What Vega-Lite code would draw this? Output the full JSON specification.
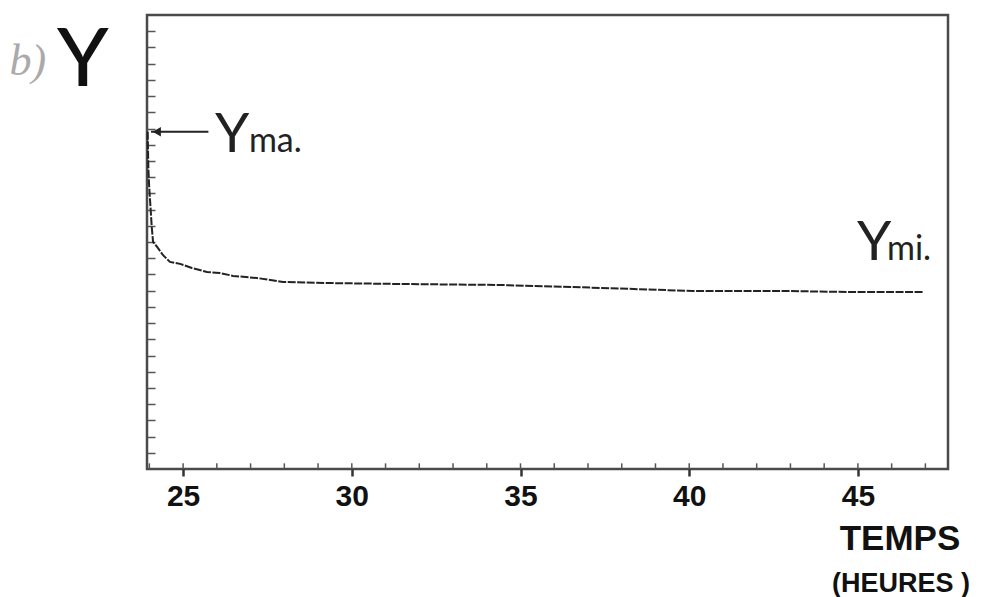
{
  "$schema": "https://vega.github.io/schema/vega-lite/v6.json",
  "width": 801,
  "height": 454,
  "autosize": {"type": "none"},
  "padding": {"left": 147, "top": 15, "right": 37, "bottom": 128},
  "background": "white",
  "config": {
    "view": {"stroke": "#4a4a4a", "strokeWidth": 2.5},
    "font": "Lato"
  },
  "datasets": {
    "curve": [
      {"hour": 23.95, "y": 20.8},
      {"hour": 23.96, "y": 19.7},
      {"hour": 23.97, "y": 18.6},
      {"hour": 23.99, "y": 17.6},
      {"hour": 24.02, "y": 16.6},
      {"hour": 24.07, "y": 14.95},
      {"hour": 24.11, "y": 14.0},
      {"hour": 24.23, "y": 13.7},
      {"hour": 24.4, "y": 13.2},
      {"hour": 24.61, "y": 12.77},
      {"hour": 24.91, "y": 12.65},
      {"hour": 25.26, "y": 12.4},
      {"hour": 25.71, "y": 12.15},
      {"hour": 26.09, "y": 12.09},
      {"hour": 26.48, "y": 11.91},
      {"hour": 27.19, "y": 11.78},
      {"hour": 27.96, "y": 11.54},
      {"hour": 29.26, "y": 11.47},
      {"hour": 31.43, "y": 11.41},
      {"hour": 34.39, "y": 11.35},
      {"hour": 37.35, "y": 11.17},
      {"hour": 40.11, "y": 10.98},
      {"hour": 42.69, "y": 10.98},
      {"hour": 44.76, "y": 10.92},
      {"hour": 46.92, "y": 10.92}
    ],
    "hours": [
      {"hour": 24}, {"hour": 25}, {"hour": 26}, {"hour": 27}, {"hour": 28},
      {"hour": 29}, {"hour": 30}, {"hour": 31}, {"hour": 32}, {"hour": 33},
      {"hour": 34}, {"hour": 35}, {"hour": 36}, {"hour": 37}, {"hour": 38},
      {"hour": 39}, {"hour": 40}, {"hour": 41}, {"hour": 42}, {"hour": 43},
      {"hour": 44}, {"hour": 45}, {"hour": 46}, {"hour": 47}
    ]
  },
  "encoding": {
    "x": {
      "type": "quantitative",
      "scale": {"domain": [23.93, 47.67], "nice": false, "zero": false},
      "axis": {
        "values": [25, 30, 35, 40, 45],
        "domain": false,
        "grid": false,
        "tickSize": 7,
        "tickWidth": 2.5,
        "tickColor": "#333",
        "labelPadding": 5,
        "labelFont": "Liberation Sans",
        "labelFontWeight": "bold",
        "labelFontSize": 30,
        "labelColor": "#111",
        "title": null
      }
    },
    "y": {
      "type": "quantitative",
      "scale": {"domain": [0, 28], "nice": false, "zero": false},
      "axis": {
        "values": [1, 2, 3, 4, 5, 6, 7, 8, 9, 10, 11, 12, 13, 14, 15, 16, 17, 18, 19, 20, 21, 22, 23, 24, 25, 26, 27],
        "domain": false,
        "grid": false,
        "labels": false,
        "tickSize": -8,
        "tickWidth": 1.5,
        "tickColor": "#555",
        "title": null
      }
    }
  },
  "layer": [
    {
      "data": {"name": "hours"},
      "mark": {"type": "rule", "color": "#555", "strokeWidth": 1.5},
      "encoding": {
        "x": {"field": "hour"},
        "y": {"datum": 0},
        "y2": {"datum": 0.35}
      }
    },
    {
      "data": {"name": "curve"},
      "mark": {"type": "line", "color": "#222", "strokeWidth": 2, "strokeDash": [8, 1.5]},
      "encoding": {
        "x": {"field": "hour"},
        "y": {"field": "y"}
      }
    },
    {
      "data": {"values": [{}]},
      "mark": {"type": "rule", "color": "#222", "strokeWidth": 2},
      "encoding": {
        "x": {"datum": 24.05},
        "x2": {"datum": 25.75},
        "y": {"datum": 20.8}
      }
    },
    {
      "data": {"values": [{}]},
      "mark": {"type": "point", "shape": "triangle-left", "filled": true, "color": "#222", "size": 90, "opacity": 1},
      "encoding": {
        "x": {"datum": 24.22},
        "y": {"datum": 20.8}
      }
    },
    {
      "data": {"values": [{"hour": 25.945, "y": 19.56, "label": "Y"}, {"hour": 44.97, "y": 12.89, "label": "Y"}]},
      "mark": {"type": "text", "align": "left", "baseline": "alphabetic", "fontSize": 55, "color": "#222", "font": "Lato"},
      "encoding": {
        "x": {"field": "hour"},
        "y": {"field": "y"},
        "text": {"field": "label"}
      }
    },
    {
      "data": {"values": [{"hour": 26.95, "y": 19.56, "label": "ma."}, {"hour": 45.86, "y": 12.89, "label": "mi."}]},
      "mark": {"type": "text", "align": "left", "baseline": "alphabetic", "fontSize": 34, "color": "#222", "font": "Lato"},
      "encoding": {
        "x": {"field": "hour"},
        "y": {"field": "y"},
        "text": {"field": "label"}
      }
    },
    {
      "data": {"values": [{"hour": 22.03, "y": 23.63, "label": "Y"}]},
      "mark": {"type": "text", "align": "center", "baseline": "alphabetic", "fontSize": 82, "fontWeight": 500, "color": "#111", "font": "Lato"},
      "encoding": {
        "x": {"field": "hour"},
        "y": {"field": "y"},
        "text": {"field": "label"}
      }
    },
    {
      "data": {"values": [{"hour": 20.4, "y": 24.3, "label": "b)"}]},
      "mark": {"type": "text", "align": "center", "baseline": "alphabetic", "fontSize": 44, "fontStyle": "italic", "color": "#aaa", "font": "Liberation Serif"},
      "encoding": {
        "x": {"field": "hour"},
        "y": {"field": "y"},
        "text": {"field": "label"}
      }
    },
    {
      "data": {"values": [{"hour": 44.46, "y": -5.0, "label": "TEMPS"}]},
      "mark": {"type": "text", "align": "left", "baseline": "alphabetic", "fontSize": 35, "fontWeight": "bold", "color": "#111", "font": "Liberation Sans"},
      "encoding": {
        "x": {"field": "hour"},
        "y": {"field": "y"},
        "text": {"field": "label"}
      }
    },
    {
      "data": {"values": [{"hour": 44.23, "y": -7.59, "label": "(HEURES )"}]},
      "mark": {"type": "text", "align": "left", "baseline": "alphabetic", "fontSize": 27, "fontWeight": "bold", "color": "#111", "font": "Liberation Sans"},
      "encoding": {
        "x": {"field": "hour"},
        "y": {"field": "y"},
        "text": {"field": "label"}
      }
    }
  ]
}
